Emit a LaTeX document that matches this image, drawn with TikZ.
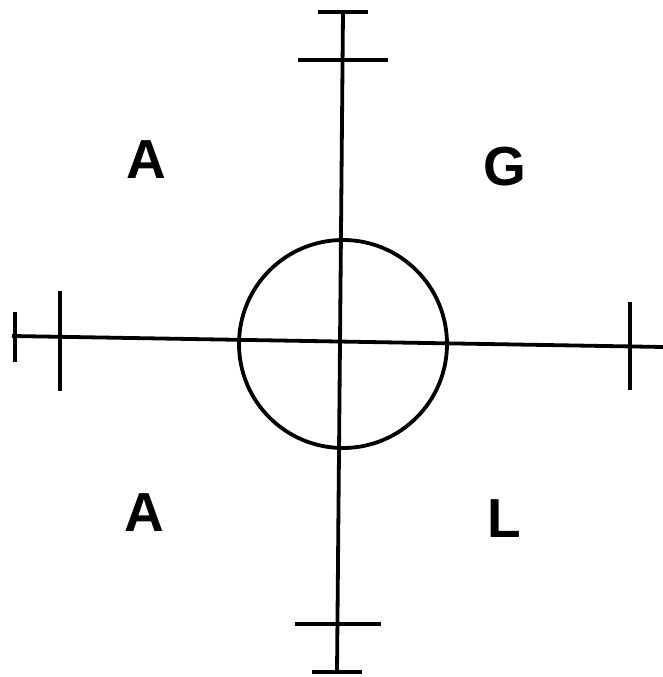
\documentclass[tikz,border=0pt]{standalone}
\usepackage{fontspec}
\setmainfont{Liberation Sans}
\usepackage{tikz}

\tikzset{
  cross/.style={line width=3.8pt},
  bar/.style={line width=3.8pt},
  quadrant/.style={inner sep=0pt,text depth=0pt,font=\bfseries\fontsize{55}{60}\selectfont}
}

\begin{document}
\begin{tikzpicture}[x=1pt,y=1pt]
  \useasboundingbox (0,0) rectangle (663,677);
  % axes ends
  \coordinate (top) at (343,665);
  \coordinate (bot) at (337,5);
  \coordinate (lft) at (12,341);
  \coordinate (rgt) at (663,330);
  \coordinate (topbar) at (342.5,617);
  \coordinate (botbar) at (337.5,53);
  \coordinate (lftbar) at (60,340);
  \coordinate (rgtbar) at (630,331);
  % axes
  \draw[cross] (top) -- (bot);
  \draw[cross] (lft) -- (rgt);
  % end bars
  \draw[bar] (318,665) -- (368,665);
  \draw[bar] ([xshift=-45pt]topbar) -- ([xshift=45pt]topbar);
  \draw[bar] ([xshift=-43pt]botbar) -- ([xshift=43pt]botbar);
  \draw[bar] (312,5) -- (362,5);
  \draw[bar] (15,365) -- (15,315);
  \draw[bar] ([yshift=46pt]lftbar) -- ([yshift=-54pt]lftbar);
  \draw[bar] ([yshift=44pt]rgtbar) -- ([yshift=-44pt]rgtbar);
  % circle
  \draw[cross] (343,333) circle (104);
  % quadrant letters
  \node[quadrant] (a1) at (146,517) {A};
  \node[quadrant] (g)  at (505,511) {G};
  \node[quadrant] (a2) at (144,164) {A};
  \node[quadrant] (l)  at (504,158) {L};
\end{tikzpicture}
\end{document}
